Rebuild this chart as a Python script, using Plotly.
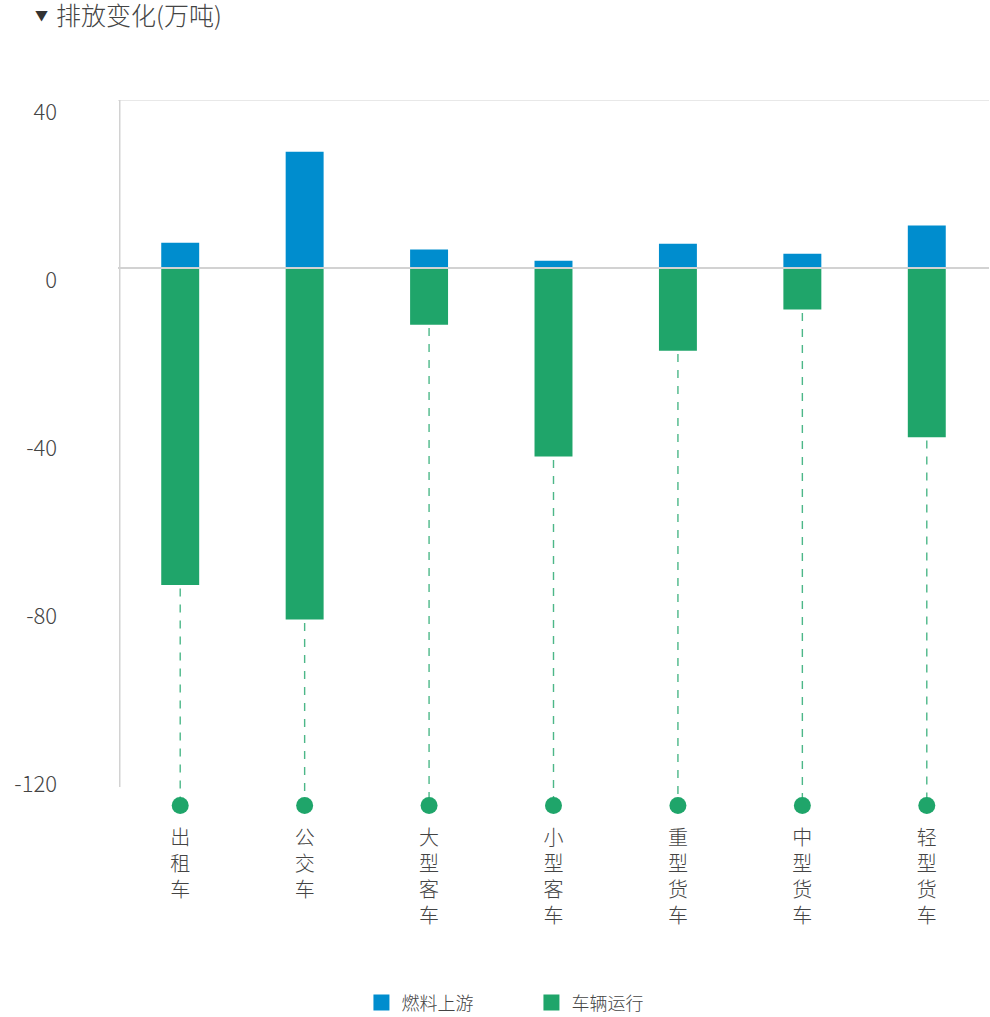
import plotly.graph_objects as go

# Emission change by vehicle type (10k tonnes)
categories = ["出租车", "公交车", "大型客车", "小型客车", "重型货车", "中型货车", "轻型货车"]
upstream = [6.0, 27.7, 4.4, 1.7, 5.8, 3.4, 10.1]          # 燃料上游
operation = [-75.5, -83.7, -13.5, -44.9, -19.7, -9.9, -40.3]  # 车辆运行
tick_values = [40, 0, -40, -80, -120]
tick_labels = ["40", "0", "-40", "-80", "-120"]
anchor_level = -128  # where the leader dots sit, below the axis

BLUE = "#008DCE"
GREEN = "#1FA56A"
FONT = "Noto Sans CJK SC"
LIGHT = 300

fig = go.Figure()

fig.add_trace(go.Bar(
    x=categories, y=upstream, name="燃料上游",
    marker=dict(color=BLUE, line=dict(width=0)),
    width=0.305, showlegend=False,
))
fig.add_trace(go.Bar(
    x=categories, y=operation, name="车辆运行",
    marker=dict(color=GREEN, line=dict(width=0)),
    width=0.305, showlegend=False,
))

# dashed leaders from each green bar down to a dot
lx, ly = [], []
for c, v in zip(categories, operation):
    lx += [c, c, None]
    ly += [v - 0.8, anchor_level, None]
fig.add_trace(go.Scatter(
    x=lx, y=ly, mode="lines",
    line=dict(color="rgba(31,165,106,0.8)", width=1.4, dash="8px,8px"),
    showlegend=False, hoverinfo="skip",
))
fig.add_trace(go.Scatter(
    x=categories, y=[anchor_level] * len(categories), mode="markers",
    marker=dict(color=GREEN, size=17, line=dict(width=0)),
    cliponaxis=False, showlegend=False, hoverinfo="skip",
))

# legend entries
for name, col in [("燃料上游", BLUE), ("车辆运行", GREEN)]:
    fig.add_trace(go.Scatter(
        x=[None], y=[None], mode="markers", name=name,
        marker=dict(symbol="square", size=16, color=col),
    ))

shapes = [
    # top rule at 40
    dict(type="line", xref="paper", yref="y", x0=0, x1=1, y0=40, y1=40,
         line=dict(color="#E0E0E0", width=1.5), layer="below"),
    # zero rule drawn over the bars
    dict(type="line", xref="paper", yref="y", x0=0, x1=1, y0=0, y1=0,
         line=dict(color="#D2D2D2", width=2), layer="above"),
    # left axis line
    dict(type="line", xref="paper", yref="y", x0=0.002, x1=0.002, y0=40, y1=-123.6,
         line=dict(color="#D2D2D2", width=1.5), layer="below"),
]

annotations = [
    dict(text="▼", xref="paper", yref="paper", x=-0.0975, y=1.1185,
         xanchor="left", yanchor="middle", showarrow=False,
         font=dict(family=FONT, size=13, color="#333333")),
    dict(text="排放变化(万吨)", xref="paper", yref="paper", x=-0.0736, y=1.1185,
         xanchor="left", yanchor="middle", showarrow=False,
         font=dict(family=FONT, size=25, color="#444444", weight=LIGHT)),
]

fig.update_layout(
    width=990, height=1017,
    margin=dict(l=118, r=1, t=100, b=193, autoexpand=False),
    paper_bgcolor="white", plot_bgcolor="white",
    barmode="relative",
    font=dict(family=FONT, color="#444444", weight=LIGHT),
    showlegend=True,
    legend=dict(
        orientation="h", x=0.2795, xanchor="left", y=-0.247, yanchor="middle",
        font=dict(family=FONT, size=18, color="#444444", weight=LIGHT),
        entrywidth=125, entrywidthmode="pixels",
        bgcolor="rgba(0,0,0,0)",
    ),
    xaxis=dict(
        type="category", categoryorder="array", categoryarray=categories,
        range=[-0.5, len(categories) - 0.5],
        showline=False, showgrid=False, zeroline=False, ticks="",
        tickvals=categories, ticktext=["<br>".join(c) for c in categories],
        tickfont=dict(family=FONT, size=20, color="#444444", weight=LIGHT),
        ticklabelstandoff=0,
    ),
    yaxis=dict(
        range=[-132.38, 40],
        showline=False, showgrid=False, zeroline=False, ticks="",
        tickvals=tick_values, ticktext=tick_labels,
        tickfont=dict(family=FONT, size=22, color="#444444", weight=LIGHT),
        ticklabelstandoff=60, ticklabelshift=12,
    ),
    shapes=shapes,
    annotations=annotations,
)

fig.write_html("out.html")
